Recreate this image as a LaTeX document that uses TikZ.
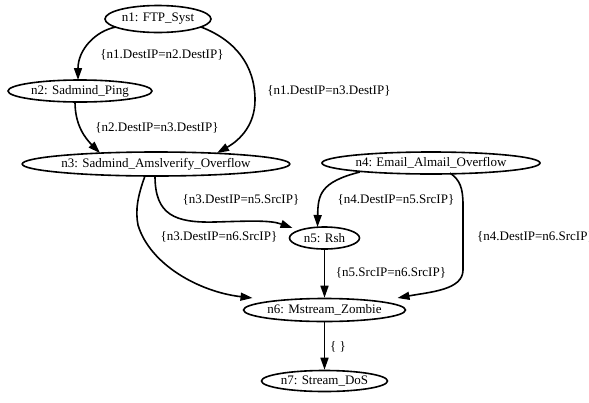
\documentclass[tikz,border=0pt]{standalone}
\usepackage{fontspec}
\setmainfont{Liberation Serif}
\usetikzlibrary{shapes.geometric,arrows.meta,calc}
\begin{document}
\begin{tikzpicture}[x=1pt,y=-1pt,
  st/.style={draw,ellipse,line width=1.6pt,inner sep=0pt,font=\fontsize{13}{15}\selectfont},
  lbl/.style={inner sep=0pt,font=\fontsize{13}{15}\selectfont},
  edge/.style={line width=1.6pt,-{Triangle[length=12pt,width=8pt]}}]
\useasboundingbox (0,0) rectangle (589,402);
% states
\node[st,minimum width=106pt,minimum height=27pt] (n1) at (158,19) {n1: FTP\_Syst};
\node[st,minimum width=144pt,minimum height=22pt] (n2) at (80,91) {n2: Sadmind\_Ping};
\node[st,minimum width=258pt,minimum height=24pt] (n3) at (156,164) {n3: Sadmind\_Amslverify\_Overflow};
\node[st,minimum width=218pt,minimum height=22pt] (n4) at (431,163) {n4: Email\_Almail\_Overflow};
\node[st,minimum width=70pt,minimum height=22pt] (n5) at (324.5,238) {n5: Rsh};
\node[st,minimum width=162pt,minimum height=23pt] (n6) at (324.5,310) {n6: Mstream\_Zombie};
\node[st,minimum width=126pt,minimum height=21pt] (n7) at (324.5,381) {n7: Stream\_DoS};
% labels
\node[lbl] (l12) at (162,55) {\{n1.DestIP=n2.DestIP\}};
\node[lbl] (l13) at (329,91) {\{n1.DestIP=n3.DestIP\}};
\node[lbl] (l23) at (157,128) {\{n2.DestIP=n3.DestIP\}};
\node[lbl] (l35) at (241,200) {\{n3.DestIP=n5.SrcIP\}};
\node[lbl] (l36) at (219,237) {\{n3.DestIP=n6.SrcIP\}};
\node[lbl] (l45) at (396,200) {\{n4.DestIP=n5.SrcIP\}};
\node[lbl,anchor=west] (l46) at (477,237) {\{n4.DestIP=n6.SrcIP\}};
\node[lbl] (l56) at (391,273) {\{n5.SrcIP=n6.SrcIP\}};
\node[lbl] (l67) at (338,347) {\{ \}};
% edges
\draw[edge] ($(n1)+(-42,8)$) .. controls (95,31) and (78,50) .. ($(n2)+(-2,-11)$);
\draw[edge] ($(n1)+(43,8)$) .. controls (235,40) and (255,65) .. (255,100)
  .. controls (255,125) and (240,140) .. ($(n3)+(61,-11)$);
\draw[edge] ($(n2)+(-5,11)$) .. controls (75,125) and (85,138) .. ($(n3)+(-56,-11)$);
\draw[edge] ($(n3)+(-1,12)$) .. controls (155,215) and (175,223) .. (215,222)
  .. controls (250,221) and (270,220) .. ($(n5)+(-32,-10)$);
\draw[edge] ($(n3)+(-11,12)$) .. controls (138,195) and (135,210) .. (138,225)
  .. controls (150,265) and (200,292) .. ($(n6)+(-72,-12)$);
\draw[edge] ($(n4)+(-71,9)$) .. controls (320,182) and (318,195) .. ($(n5)+(-7,-11)$);
\draw[edge] ($(n4)+(19,10)$) .. controls (460,180) and (463,188) .. (463,205) -- (463,270)
  .. controls (463,290) and (430,292) .. ($(n6)+(73,-12)$);
\draw[edge] (n5.south) -- (n6.north);
\draw[edge] (n6.south) -- (n7.north);
\end{tikzpicture}
\end{document}
